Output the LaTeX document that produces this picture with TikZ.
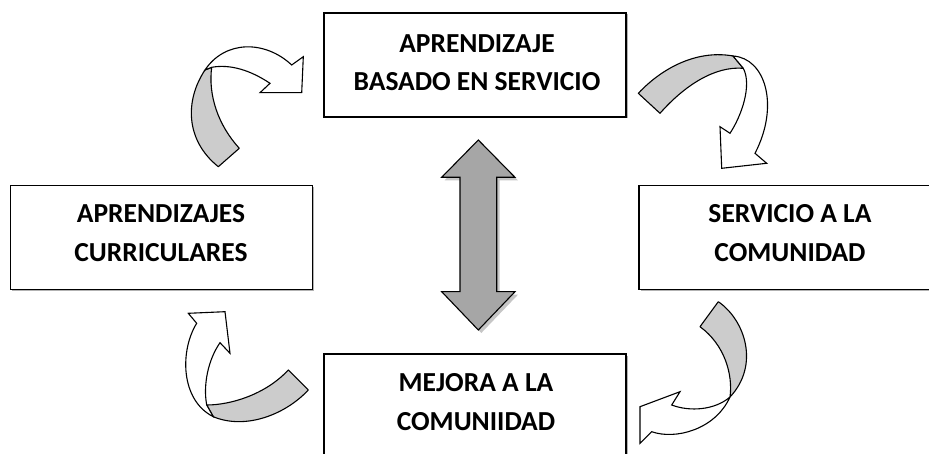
\documentclass[tikz,border=0pt]{standalone}
\usepackage{fontspec}
\setmainfont{Carlito}
\usetikzlibrary{shadows}
\begin{document}
\begin{tikzpicture}[x=1pt,y=-1pt,
  box/.style={draw, line width=1.3pt, fill=white, minimum width=302pt, minimum height=104pt, inner sep=0pt,
    drop shadow={shadow xshift=1.5pt, shadow yshift=-1.5pt, fill=gray!60, opacity=1}},
  lbl/.style={align=center, font=\fontsize{27.5}{38.5}\selectfont\bfseries, inner sep=0pt},
  band/.style={draw, line width=1.1pt, fill=gray!40, line join=round},
  face/.style={draw, line width=1.1pt, fill=white, line join=miter},
  dblarrow/.style={draw, line width=1.1pt, fill=gray!70, line join=miter},
  dblshadow/.style={fill=gray!45}]
\useasboundingbox (0,0) rectangle (929,454);

% boxes
\node[box] (top) at (475,65) {};
\node[box] (left) at (161.5,237.5) {};
\node[box] (right) at (790,237.5) {};
\node[box] (bottom) at (475,406) {};

\node[lbl] (toptext) at (477,62.5) {APRENDIZAJE\\BASADO EN SERVICIO};
\node[lbl] (lefttext) at (161,233) {APRENDIZAJES\\CURRICULARES};
\node[lbl] (righttext) at (790,233) {SERVICIO A LA\\COMUNIDAD};
\node[lbl] (bottomtext) at (476,402) {MEJORA A LA\\COMUNIIDAD};

% central double arrow
\path[dblshadow, shift={(3pt,-3pt)}] (478.3,140) -- (515,177.3) -- (496.7,177.3) -- (496.7,291.7) -- (515,291.7) -- (478.3,330) -- (441.7,291.7) -- (460,291.7) -- (460,177.3) -- (441.7,177.3) -- cycle;
\draw[dblarrow] (478.3,140) -- (515,177.3) -- (496.7,177.3) -- (496.7,291.7) -- (515,291.7) -- (478.3,330) -- (441.7,291.7) -- (460,291.7) -- (460,177.3) -- (441.7,177.3) -- cycle;

% top-left curved arrow
\draw[band] (205,70) .. controls (185,100) and (185,140) .. (218.3,166.7) -- (239.3,148.3) .. controls (218,125) and (208,95) .. (211.7,67.3) -- cycle;
\draw[face] (205,70) .. controls (225,40) and (265,40) .. (291.7,65) -- (303.3,56.7) -- (301.7,92.7) -- (260,92.7) -- (270,83.3) .. controls (250,70) and (230,64) .. (211.7,67.3) -- cycle;

% top-right curved arrow
\draw[band] (638.3,93.3) .. controls (665,65) and (700,50) .. (733,56) -- (743.3,68.3) .. controls (715,66) and (685,85) .. (660,113.3) -- cycle;
\draw[face] (733,56) .. controls (765,58) and (780,105) .. (755,153.3) -- (766.7,163.3) -- (721.7,168.3) -- (720,126.7) -- (730,133.3) .. controls (742,115) and (752,85) .. (743.3,68.3) -- cycle;

% bottom-right curved arrow
\draw[band] (700,326.7) -- (718.3,301.7) .. controls (745,320) and (760,365) .. (730,397) .. controls (733,375) and (725,345) .. (700,326.7) -- cycle;
\draw[face] (730,397) .. controls (715,410) and (690,412) .. (671.7,405) -- (680,391.7) -- (640,406.7) -- (640,443.3) -- (651.7,431.7) .. controls (675,440) and (715,430) .. (730,397) -- cycle;

% bottom-left curved arrow
\draw[band] (206.7,405) .. controls (230,405) and (265,395) .. (288.3,370) -- (308.3,390) .. controls (285,415) and (245,430) .. (213.3,416.7) -- cycle;
\draw[face] (196.7,323.3) -- (188.3,313.3) -- (225,311.7) -- (230,353.3) -- (220,342.7) .. controls (208,360) and (203,385) .. (206.7,405) -- (213.3,416.7) .. controls (180,400) and (180,350) .. (196.7,323.3) -- cycle;
\end{tikzpicture}
\end{document}
